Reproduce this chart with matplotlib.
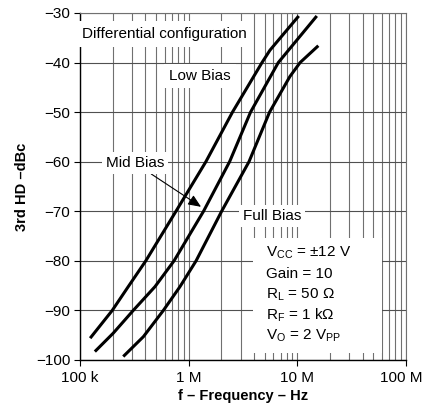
import numpy as np
import matplotlib
matplotlib.use("Agg")
import matplotlib.pyplot as plt
import matplotlib.transforms as mtransforms
from matplotlib.patches import Rectangle
from matplotlib.ticker import FixedLocator, FixedFormatter, NullFormatter

plt.rcParams['font.family'] = ['Liberation Sans', 'DejaVu Sans']
plt.rcParams['mathtext.fontset'] = 'custom'
plt.rcParams['mathtext.rm'] = 'Liberation Sans'

# frequency in MHz, 3rd harmonic distortion in dBc
low_f = [0.124, 0.198, 0.278, 0.403, 0.764, 1.44, 2.53, 4.73, 5.60, 10.3]
low_hd = [-95.6, -90, -85.2, -80, -70, -60, -50, -40, -37.5, -30.6]

mid_f = [0.137, 0.202, 0.309, 0.490, 0.733, 1.37, 2.38, 3.71, 6.68, 15.1]
mid_hd = [-98.3, -94.6, -90, -85.2, -80, -70, -60, -50, -40, -30.6]

full_f = [0.250, 0.383, 0.585, 0.832, 1.17, 2.01, 3.59, 5.55, 8.55, 10.6, 15.6]
full_hd = [-99.3, -95.3, -90, -85.2, -80, -70, -60, -50, -42.8, -40, -36.6]

xticks = [1e5, 1e6, 1e7, 1e8]
xticklabels = ['100 k', '1 M', '10 M', '100 M']
yticks = [-100, -90, -80, -70, -60, -50, -40, -30]

params = [r'V$_{\mathrm{CC}}$ = ±12 V', 'Gain = 10', r'R$_{\mathrm{L}}$ = 50 Ω',
          r'R$_{\mathrm{F}}$ = 1 kΩ', r'V$_{\mathrm{O}}$ = 2 V$_{\mathrm{PP}}$']

fig = plt.figure(figsize=(4.23, 4.09), dpi=100)
ax = fig.add_axes([80 / 423, 49 / 409, 326 / 423, 347 / 409])

# grid: decades + 2..9 minors
minors = [m * 10.0 ** d for d in range(5, 8) for m in range(2, 10)]
for x in xticks + minors:
    ax.axvline(x, color='#707070', lw=0.8, zorder=1)
for y in yticks:
    ax.axhline(y, color='#505050', lw=0.8, zorder=1)

for f, hd in [(low_f, low_hd), (mid_f, mid_hd), (full_f, full_hd)]:
    ax.plot(np.array(f) * 1e6, hd, color='black', lw=2.2, zorder=5,
            solid_capstyle='butt', solid_joinstyle='round')

ax.set_xscale('log')
ax.set_xlim(1e5, 1e8)
ax.set_ylim(-100, -30)
ax.xaxis.set_major_locator(FixedLocator(xticks))
ax.xaxis.set_major_formatter(FixedFormatter(xticklabels))
ax.xaxis.set_minor_locator(FixedLocator([]))
ax.xaxis.set_minor_formatter(NullFormatter())
ax.set_yticks(yticks)
ax.set_yticklabels([str(v).replace('-', '\u2212') for v in yticks])
ax.tick_params(axis='both', direction='out', length=4, width=0.8,
               labelsize=11, colors='black')
ax.tick_params(axis='x', pad=4)
ax.tick_params(axis='y', pad=3)
for s in ['top', 'right']:
    ax.spines[s].set_color('#707070')
    ax.spines[s].set_linewidth(0.8)
for s in ['left', 'bottom']:
    ax.spines[s].set_linewidth(1.0)

# pull the last x label in so it stays inside the figure
lab = ax.get_xticklabels()[-1]
lab.set_transform(lab.get_transform() +
                  mtransforms.ScaledTranslation(-5 / 100, 0, fig.dpi_scale_trans))

ax.set_xlabel('f \u2013 Frequency \u2013 Hz', fontsize=10.5, fontweight='bold', labelpad=3)
ax.set_ylabel('3rd HD \u2013dBc', fontsize=10.5, fontweight='bold', labelpad=5)

box = dict(boxstyle='square,pad=0.25', fc='white', ec='none')
ax.text(0.005, 0.94, 'Differential configuration', transform=ax.transAxes,
        fontsize=11, ha='left', va='center', zorder=3,
        bbox=dict(boxstyle='square,pad=0.4', fc='white', ec='none'))
ax.text(1.27e6, -42.7, 'Low Bias', fontsize=11, ha='center', va='center',
        zorder=3, bbox=dict(boxstyle='square,pad=0.35', fc='white', ec='none'))
ax.text(5.85e6, -70.9, 'Full Bias', fontsize=11, ha='center', va='center',
        zorder=3, bbox=box)
ax.annotate('Mid Bias', xy=(1.30e6, -69.1), xytext=(3.2e5, -60.3),
            fontsize=11, ha='center', va='center', zorder=6,
            bbox=box,
            arrowprops=dict(arrowstyle='-|>,head_length=0.7,head_width=0.3',
                            color='black', lw=0.8, shrinkA=0, shrinkB=0))

ax.add_patch(Rectangle((0.531, 0.02), 0.396, 0.331, transform=ax.transAxes,
                       fc='white', ec='none', zorder=3))
for i, t in enumerate(params):
    ax.text(0.571, 0.308 - i * 0.0595, t, transform=ax.transAxes,
            fontsize=11, ha='left', va='center', zorder=4)

fig.savefig('out.png', dpi=100)
